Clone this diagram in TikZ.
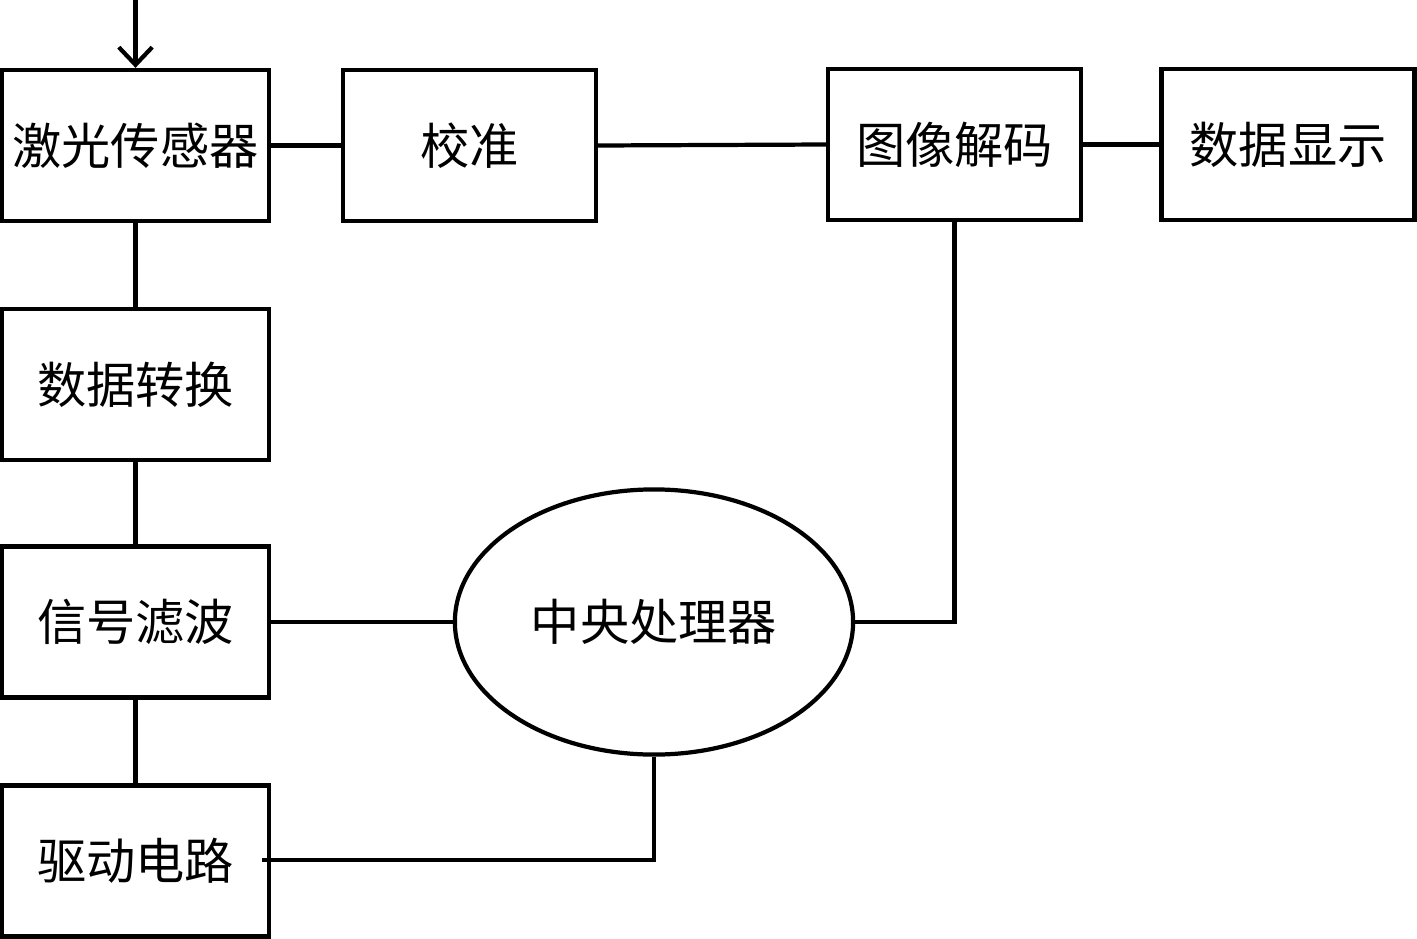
\documentclass[tikz,border=0pt]{standalone}
\usepackage{fontspec}
\setmainfont{Noto Sans CJK SC}
\usetikzlibrary{shapes.geometric,arrows.meta}
\begin{document}
\begin{tikzpicture}[x=0.01cm,y=-0.01cm,
  box/.style={draw,line width=1.2pt,rectangle,minimum width=2.67cm,minimum height=1.51cm,inner sep=0pt,font=\fontsize{14pt}{16pt}\selectfont},
  nbox/.style={box,minimum width=2.53cm},
  oval/.style={draw,line width=1.2pt,ellipse,minimum width=3.98cm,minimum height=2.65cm,inner sep=0pt,font=\fontsize{14pt}{16pt}\selectfont},
  link/.style={line width=1.2pt}]
\useasboundingbox (0,0) rectangle (1417,939);
\node[box] (laser) at (135.5,145.5) {激光传感器};
\node[nbox] (cal) at (469.5,145.5) {校准};
\node[nbox] (img) at (954.5,144.5) {图像解码};
\node[nbox] (disp) at (1288,144.5) {数据显示};
\node[box] (conv) at (135.5,384.5) {数据转换};
\node[box] (filt) at (135.5,622) {信号滤波};
\node[box] (drv) at (135.5,861) {驱动电路};
\node[oval] (cpu) at (654,622) {中央处理器};
\coordinate (src) at (135.5,0);
\coordinate (drvend) at (262,860);
\draw[link,-{Straight Barb[length=5pt,width=9.5pt,line width=1.2pt]}] (src) -- (laser.north);
\draw[link] (laser.east) -- (cal.west);
\draw[link] (cal.east) -- (img.west);
\draw[link] (img.east) -- (disp.west);
\draw[link] (laser.south) -- (conv.north);
\draw[link] (conv.south) -- (filt.north);
\draw[link] (filt.south) -- (drv.north);
\draw[link] (filt.east) -- (cpu.west);
\draw[link] (img.south) |- (cpu.east);
\draw[link] (cpu.south) |- (drvend);
\end{tikzpicture}
\end{document}
